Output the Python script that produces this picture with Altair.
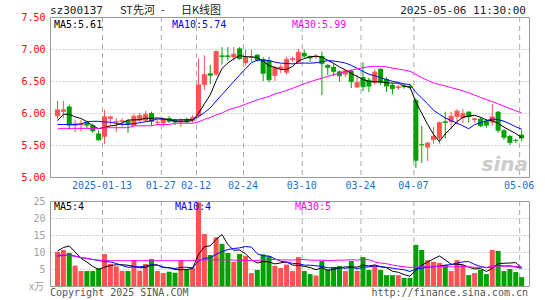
import altair as alt
import pandas as pd
import numpy as np

# ---------------- data ----------------
dates = [
    "2024-12-31", "2025-01-02", "2025-01-03", "2025-01-06", "2025-01-07", "2025-01-08", "2025-01-09", "2025-01-10",
    "2025-01-13", "2025-01-14", "2025-01-15", "2025-01-16", "2025-01-17", "2025-01-20", "2025-01-21", "2025-01-22",
    "2025-01-23", "2025-01-24", "2025-01-27", "2025-02-05", "2025-02-06", "2025-02-07", "2025-02-10", "2025-02-11",
    "2025-02-12", "2025-02-13", "2025-02-14", "2025-02-17", "2025-02-18", "2025-02-19", "2025-02-20", "2025-02-21",
    "2025-02-24", "2025-02-25", "2025-02-26", "2025-02-27", "2025-02-28", "2025-03-03", "2025-03-04", "2025-03-05",
    "2025-03-06", "2025-03-07", "2025-03-10", "2025-03-11", "2025-03-12", "2025-03-13", "2025-03-14", "2025-03-17",
    "2025-03-18", "2025-03-19", "2025-03-20", "2025-03-21", "2025-03-24", "2025-03-25", "2025-03-26", "2025-03-27",
    "2025-03-28", "2025-03-31", "2025-04-01", "2025-04-02", "2025-04-03", "2025-04-07", "2025-04-08", "2025-04-09",
    "2025-04-10", "2025-04-11", "2025-04-14", "2025-04-15", "2025-04-16", "2025-04-17", "2025-04-18", "2025-04-21",
    "2025-04-22", "2025-04-23", "2025-04-24", "2025-04-25", "2025-04-28", "2025-04-29", "2025-04-30", "2025-05-06",
]

opens = [5.95, 6.02, 6.10, 5.80, 5.81, 5.85, 5.81, 5.68, 5.63, 5.91,
         5.85, 5.86, 5.88, 5.80, 5.88, 5.88, 6.00, 5.85, 5.84, 5.92,
         5.89, 5.85, 5.89, 5.88, 5.95, 6.44, 6.62, 6.60, 6.90, 6.90,
         6.87, 7.01, 6.78, 6.86, 6.91, 6.84, 6.82, 6.58, 6.69, 6.63,
         6.83, 6.79, 6.94, 6.89, 6.87, 6.89, 6.75, 6.72, 6.65, 6.60,
         6.66, 6.40, 6.56, 6.52, 6.47, 6.69, 6.53, 6.44, 6.39, 6.43,
         6.42, 6.20, 5.51, 5.46, 5.58, 5.60, 5.87, 5.86, 5.94, 5.92,
         6.02, 5.89, 5.91, 5.88, 5.85, 6.02, 5.73, 5.64, 5.58, 5.66]
highs = [6.19, 6.19, 6.13, 5.90, 5.89, 5.87, 5.84, 5.73, 6.05, 5.96,
         5.92, 5.92, 5.90, 5.99, 6.00, 6.03, 6.02, 5.90, 5.93, 5.95,
         5.91, 5.92, 5.93, 5.97, 6.85, 6.90, 6.75, 6.98, 7.03, 7.03,
         7.03, 7.03, 6.99, 6.99, 6.92, 6.87, 6.88, 6.74, 6.76, 6.88,
         6.88, 7.00, 6.99, 6.90, 6.92, 6.96, 6.77, 6.77, 6.66, 6.67,
         6.68, 6.60, 6.79, 6.55, 6.68, 6.70, 6.56, 6.46, 6.44, 6.46,
         6.45, 6.23, 5.80, 5.55, 5.78, 5.87, 6.02, 6.02, 6.06, 6.06,
         6.03, 5.92, 5.93, 5.90, 6.14, 6.03, 5.75, 5.66, 5.60, 5.73]
lows = [5.90, 5.92, 5.74, 5.70, 5.71, 5.76, 5.69, 5.57, 5.52, 5.80,
        5.70, 5.78, 5.69, 5.79, 5.86, 5.86, 5.80, 5.82, 5.78, 5.84,
        5.81, 5.78, 5.83, 5.85, 5.93, 6.36, 6.45, 6.58, 6.76, 6.82,
        6.82, 6.83, 6.74, 6.80, 6.80, 6.50, 6.48, 6.50, 6.62, 6.60,
        6.80, 6.78, 6.86, 6.80, 6.85, 6.28, 6.59, 6.58, 6.49, 6.56,
        6.39, 6.39, 6.34, 6.33, 6.44, 6.44, 6.33, 6.29, 6.36, 6.38,
        6.37, 5.14, 5.22, 5.25, 5.52, 5.52, 5.60, 5.74, 5.82, 5.84,
        5.85, 5.85, 5.78, 5.77, 5.80, 5.69, 5.58, 5.50, 5.53, 5.56]
closes = [6.05, 6.05, 5.81, 5.83, 5.83, 5.81, 5.72, 5.58, 5.94, 5.94,
          5.87, 5.88, 5.82, 5.95, 5.96, 5.98, 5.87, 5.86, 5.89, 5.87,
          5.86, 5.88, 5.86, 5.93, 6.44, 6.60, 6.59, 6.96, 6.88, 6.88,
          6.92, 6.85, 6.87, 6.87, 6.83, 6.62, 6.52, 6.71, 6.72, 6.84,
          6.85, 6.95, 6.89, 6.86, 6.89, 6.77, 6.71, 6.65, 6.58, 6.66,
          6.49, 6.48, 6.41, 6.42, 6.64, 6.48, 6.42, 6.38, 6.41, 6.41,
          6.40, 5.26, 5.50, 5.53, 5.64, 5.85, 5.85, 5.95, 6.03, 5.99,
          5.94, 5.91, 5.80, 5.81, 5.94, 5.73, 5.62, 5.54, 5.57, 5.61]
volumes = [10.0, 10.6, 9.7, 6.0, 4.4, 4.4, 4.4, 5.2, 9.4, 6.5,
           5.8, 4.4, 4.4, 7.6, 4.5, 6.5, 7.9, 4.4, 3.8, 4.2,
           3.9, 7.6, 4.8, 5.4, 24.6, 15.3, 9.1, 14.3, 12.4, 9.7,
           7.1, 9.4, 8.8, 3.8, 4.7, 9.3, 8.8, 5.9, 5.3, 6.3,
           4.4, 8.5, 4.4, 3.5, 3.1, 7.4, 4.8, 5.6, 5.9, 4.4,
           7.4, 4.5, 8.5, 4.7, 5.9, 4.7, 3.2, 3.2, 3.2, 2.4,
           2.4, 12.1, 10.6, 7.6, 7.1, 6.8, 6.2, 4.4, 7.6, 6.2,
           3.2, 3.8, 4.7, 3.5, 10.6, 10.3, 4.4, 5.0, 4.1, 2.6]

# moving-average values at the start of the window (they depend on days before it)
ma5_head = [5.88, 5.98, 5.98, 5.94]
ma10_head = [5.82, 5.82, 5.82, 5.82, 5.83, 5.86, 5.87, 5.87, 5.86]
ma30_head = [5.75, 5.76, 5.76, 5.76, 5.76, 5.76, 5.76, 5.76, 5.77, 5.77,
             5.77, 5.77, 5.77, 5.80, 5.80, 5.80, 5.80, 5.82, 5.82, 5.82,
             5.84, 5.84, 5.84, 5.84, 5.86, 5.90, 5.93, 5.97, 6.00]
vma5_head = [10.3, 11.3, 11.8, 10.0]
vma10_head = [8.8, 9.0, 9.1, 8.8, 8.4, 8.1, 7.8, 7.5, 7.2]
vma30_head = [9.2, 9.1, 9.0, 8.7, 8.4, 8.1, 7.8, 7.6, 7.5, 7.45,
              7.45, 7.45, 7.45, 7.45, 7.45, 7.45, 7.45, 7.45, 7.45, 7.45,
              7.45, 7.45, 7.45, 7.45, 7.7, 7.7, 7.7, 7.7, 7.7]

tick_dates = ["2025-01-13", "2025-01-27", "2025-02-12", "2025-02-24",
              "2025-03-10", "2025-03-24", "2025-04-07", "2025-05-06"]
tick_labels = ["2025-01-13", "01-27", "02-12", "02-24", "03-10", "03-24", "04-07", "05-06"]
price_ticks = [5.0, 5.5, 6.0, 6.5, 7.0, 7.5]
vol_ticks = [5, 10, 15, 20, 25]

# ---------------- table ----------------
df = pd.DataFrame({"idx": range(len(dates)), "date": dates, "open": opens, "high": highs,
                   "low": lows, "close": closes, "vol": volumes})
df["dir"] = np.where(df["close"] >= df["open"], "up", "down")


def moving(series, n, head):
    r = series.rolling(n).mean()
    r.iloc[:len(head)] = head
    return r.round(3)


df["ma5"] = moving(df["close"], 5, ma5_head)
df["ma10"] = moving(df["close"], 10, ma10_head)
df["ma30"] = moving(df["close"], 30, ma30_head)
df["vma5"] = moving(df["vol"], 5, vma5_head)
df["vma10"] = moving(df["vol"], 10, vma10_head)
df["vma30"] = moving(df["vol"], 30, vma30_head)

ticks = pd.DataFrame({"idx": [dates.index(d) for d in tick_dates], "label": tick_labels})

# ---------------- style ----------------
W, H = 480, 269
P_BOTTOM, V_TOP = 160, 184
RED, GREEN = "#ff5252", "#00a000"
MONO = "DejaVu Sans Mono"
GRIDC = "#aaaaaa"

xenc = alt.X("idx:Q", scale=alt.Scale(domain=[0, 80], nice=False, zero=False), axis=None)
col = alt.Color("dir:N", scale=alt.Scale(domain=["up", "down"], range=[RED, GREEN]), legend=None)

p_scale = alt.Scale(domain=[5.0, 7.5], range=[P_BOTTOM, 0], nice=False, zero=False)
v_scale = alt.Scale(domain=[0, 25], range=[H, V_TOP], nice=False, zero=True)
p_axis = alt.Axis(values=price_ticks, format=".2f", orient="left", labelColor="#ff0000",
                  labelFont=MONO, labelFontSize=10, labelPadding=5, domain=False, ticks=False,
                  grid=True, gridDash=[1, 2], gridColor=GRIDC, title=None, labelFlush=False)
v_axis = alt.Axis(values=vol_ticks, format="d", orient="left", labelColor="#a0a0a0",
                  labelFont=MONO, labelFontSize=10, labelPadding=5, domain=False, ticks=False,
                  grid=True, gridDash=[1, 2], gridColor=GRIDC, title=None, labelFlush=False)


def py(field):
    return alt.Y(f"{field}:Q", scale=p_scale, axis=p_axis, title=None)


def vy(field):
    return alt.Y(f"{field}:Q", scale=v_scale, axis=v_axis, title=None)


base = alt.Chart(df)
tbase = alt.Chart(ticks)

# ---- price panel ----
p_vgrid = tbase.mark_rule(strokeDash=[5, 4], color=GRIDC, strokeWidth=1, xOffset=0.5).encode(
    x=xenc, y=alt.value(0), y2=alt.value(P_BOTTOM))
wick = base.mark_rule(strokeWidth=1, xOffset=2.5).encode(x=xenc, y=py("low"), y2="high:Q", color=col)
body = base.mark_bar(size=5, xOffset=2.5, orient="vertical").encode(x=xenc, y=py("open"), y2="close:Q", color=col)
doji = base.mark_tick(orient="horizontal", size=5, thickness=1, xOffset=2.5).encode(
    x=xenc, y=py("close"), color=col)
ma5 = base.mark_line(strokeWidth=1, xOffset=2.5, color="#000000").encode(x=xenc, y=py("ma5"))
ma10 = base.mark_line(strokeWidth=1, xOffset=2.5, color="#0000ff").encode(x=xenc, y=py("ma10"))
ma30 = base.mark_line(strokeWidth=1, xOffset=2.5, color="#ff00ff").encode(x=xenc, y=py("ma30"))
price = alt.layer(p_vgrid, wick, body, doji, ma5, ma10, ma30)

# ---- volume panel ----
v_vgrid = tbase.mark_rule(strokeDash=[5, 4], color=GRIDC, strokeWidth=1, xOffset=0.5).encode(
    x=xenc, y=alt.value(V_TOP), y2=alt.value(H))
vbar = base.mark_bar(size=5, xOffset=2.5, orient="vertical").encode(x=xenc, y=vy("vol"), color=col)
vma5 = base.mark_line(strokeWidth=1, xOffset=2.5, color="#000000").encode(x=xenc, y=vy("vma5"))
vma10 = base.mark_line(strokeWidth=1, xOffset=2.5, color="#0000ff").encode(x=xenc, y=vy("vma10"))
vma30 = base.mark_line(strokeWidth=1, xOffset=2.5, color="#ff00ff").encode(x=xenc, y=vy("vma30"))
volume = alt.layer(v_vgrid, vbar, vma5, vma10, vma30)

# ---- frames, labels, texts ----
one = alt.Chart(pd.DataFrame({"a": [0]}))
frame_p = one.mark_rect(fillOpacity=0, stroke="#999999", strokeWidth=1).encode(
    x=alt.value(0.5), x2=alt.value(W - 0.5), y=alt.value(0.5), y2=alt.value(P_BOTTOM + 0.5))
frame_v = one.mark_rect(fillOpacity=0, stroke="#999999", strokeWidth=1).encode(
    x=alt.value(0.5), x2=alt.value(W - 0.5), y=alt.value(V_TOP + 0.5), y2=alt.value(H + 0.5))

date_lbl = tbase.mark_text(font=MONO, fontSize=10, color="#1a72c8", baseline="middle", align="center").encode(
    x=xenc, text="label:N", y=alt.value(169))


def txt(s, x, y, color="#000000", align="left", size=10, font=MONO, **kw):
    return one.mark_text(text=s, font=font, fontSize=size, color=color, align=align,
                         baseline="middle", **kw).encode(x=alt.value(x), y=alt.value(y))


texts = [
    txt("sz300137", 0, -6, color="#222222", size=11),
    txt("ST先河", 70, -6, color="#222222", size=11, font="Noto Sans CJK SC"),
    txt("-", 111, -6, color="#222222", size=11, font="Noto Sans CJK SC"),
    txt("日K线图", 131, -6, color="#222222", size=11, font="Noto Sans CJK SC"),
    txt("2025-05-06 11:30:00", 476, -6, color="#222222", align="right", size=11),
    txt("MA5:5.61", 4, 7.5),
    txt("MA10:5.74", 122, 7.5, color="#0000ff"),
    txt("MA30:5.99", 242, 7.5, color="#ff00ff"),
    txt("MA5:4", 4, 190),
    txt("MA10:4", 125, 190, color="#0000ff"),
    txt("MA30:5", 245, 190, color="#ff00ff"),
    txt("x万", -6, 270, color="#a0a0a0", align="right", size=10, font="Noto Sans CJK SC"),
    txt("Copyright 2025 SINA.COM", 0, 276, color="#555555"),
    txt("http://finance.sina.com.cn", 478, 276, color="#555555", align="right"),
    txt("sina", 478, 148, color="#cccccc", align="right", size=20, font="DejaVu Sans",
        fontStyle="italic", fontWeight="bold"),
]

deco = alt.layer(frame_p, frame_v, date_lbl, *texts)

chart = alt.layer(price, volume, deco).resolve_scale(y="independent").properties(
    width=W, height=H,
    autosize=alt.AutoSizeParams(type="none"),
    padding={"left": 50, "top": 17, "right": 15, "bottom": 14},
    background="#ffffff",
).configure_view(stroke=None)

chart.save("out.html", embed_options={"renderer": "svg", "actions": False})
